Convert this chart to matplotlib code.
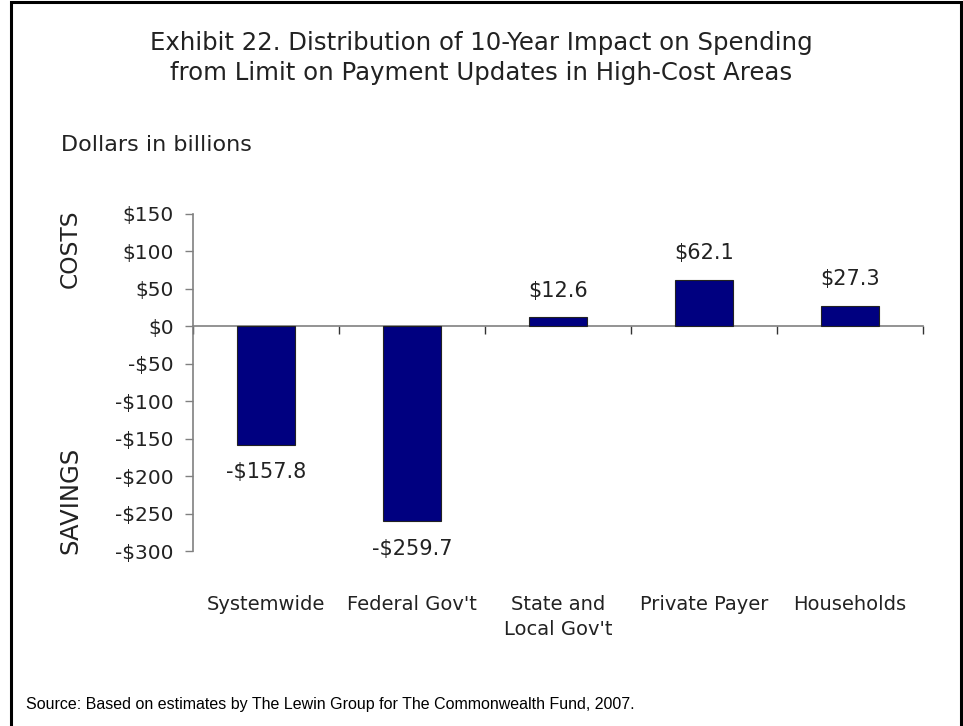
import matplotlib.pyplot as plt
import matplotlib.transforms as mtransforms
from matplotlib.patches import Rectangle
import numpy as np

# chart data
categories = ['Systemwide', "Federal Gov't", "State and\nLocal Gov't", 'Private Payer', 'Households']
values = [-157.8, -259.7, 12.6, 62.1, 27.3]
value_labels = ['-$157.8', '-$259.7', '$12.6', '$62.1', '$27.3']
y_ticks = [150, 100, 50, 0, -50, -100, -150, -200, -250, -300]
y_tick_labels = ['$150', '$100', '$50', '$0', '-$50', '-$100', '-$150', '-$200', '-$250', '-$300']

plt.rcParams['font.family'] = ['DejaVu Sans']
text_color = '#222222'
axis_color = '#808080'

fig = plt.figure(figsize=(9.63, 7.26), dpi=100)
ax = fig.add_axes([193 / 963, 1 - 551 / 726, 730 / 963, 337 / 726])

x = np.arange(len(categories))
ax.bar(x, values, width=0.40, color='#000080', edgecolor='#222222', linewidth=0.8, zorder=3)

ax.set_xlim(-0.5, len(categories) - 0.5)
ax.set_ylim(-300, 150)
ax.set_yticks(y_ticks)
ax.set_yticklabels(y_tick_labels, fontsize=14.5, color=text_color)
ax.tick_params(axis='y', direction='out', length=6, width=1, color=axis_color, pad=8)

# zero line with category boundary ticks
ax.spines['bottom'].set_position(('data', 0))
ax.spines['bottom'].set_color(axis_color)
ax.spines['bottom'].set_linewidth(1.2)
ax.spines['left'].set_color(axis_color)
ax.spines['left'].set_linewidth(1.2)
ax.spines['top'].set_visible(False)
ax.spines['right'].set_visible(False)
ax.set_xticks(np.arange(-0.5, len(categories), 1.0))
ax.set_xticklabels([])
ax.tick_params(axis='x', direction='out', length=6, width=1, color='#333333')

# value labels
for xi, v, lab in zip(x, values, value_labels):
    off = 19 if v >= 0 else -20
    ax.annotate(lab, (xi, v), xytext=(0, off), textcoords='offset points',
                ha='center', va='center', fontsize=15, color=text_color)

# category labels under the plot
trans = mtransforms.blended_transform_factory(ax.transData, fig.transFigure)
for xi, cat in zip(x, categories):
    ax.text(xi, 1 - 595 / 726, cat, transform=trans, ha='center', va='top',
            fontsize=14, color=text_color, linespacing=1.4)

# titles and side labels
fig.text(481 / 963, 1 - 58 / 726,
         'Exhibit 22. Distribution of 10-Year Impact on Spending\nfrom Limit on Payment Updates in High-Cost Areas',
         ha='center', va='center', fontsize=17.6, color=text_color, linespacing=1.3)
fig.text(61 / 963, 1 - 145 / 726, 'Dollars in billions', ha='left', va='center',
         fontsize=16, color=text_color)
fig.text(70 / 963, 1 - 249 / 726, 'COSTS', rotation=90, ha='center', va='center',
         fontsize=16.8, color=text_color)
fig.text(70 / 963, 1 - 500 / 726, 'SAVINGS', rotation=90, ha='center', va='center',
         fontsize=17.5, color=text_color)
fig.text(26 / 963, 1 - 705 / 726,
         'Source: Based on estimates by The Lewin Group for The Commonwealth Fund, 2007.',
         ha='left', va='center', fontsize=11.5, family='Liberation Sans', color='black')

# border around the figure
fig.patches.append(Rectangle((11 / 963, -0.01), 950 / 963, 1 - 2 / 726 + 0.01,
                             transform=fig.transFigure, fill=False,
                             edgecolor='black', linewidth=2.2))

fig.savefig('out.png', dpi=100)
